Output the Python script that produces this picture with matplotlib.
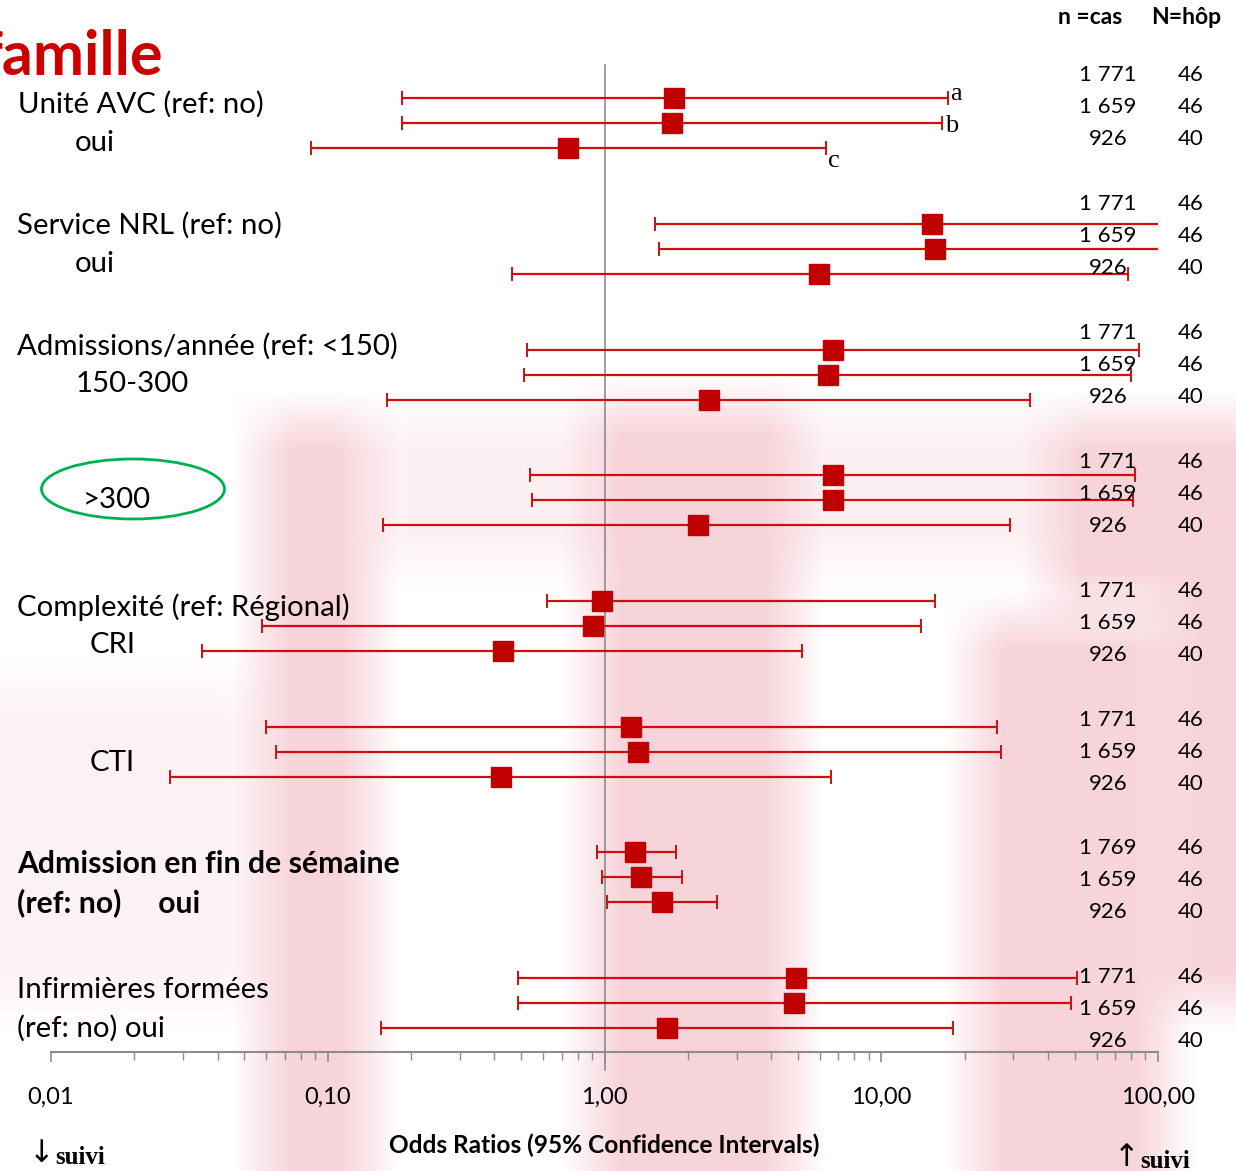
import numpy as np
import matplotlib
matplotlib.use("Agg")
import matplotlib.pyplot as plt
from matplotlib.patches import Ellipse
from matplotlib.ticker import FixedLocator, LogLocator, NullFormatter

plt.rcParams['font.family'] = ['Lato', 'DejaVu Sans']

# odds ratios and 95% CI, three models (a, b, c) per variable
or_est = [
    [1.79, 1.76, 0.74],    # Unité AVC
    [15.3, 15.7, 5.98],    # Service NRL
    [6.67, 6.40, 2.38],    # Admissions 150-300
    [6.67, 6.72, 2.17],    # Admissions >300
    [0.98, 0.905, 0.428],  # CRI
    [1.25, 1.32, 0.421],   # CTI
    [1.29, 1.36, 1.62],    # fin de semaine
    [4.94, 4.82, 1.68],    # infirmières formées
]
ci_low = [
    [0.185, 0.185, 0.087],
    [1.52, 1.57, 0.465],
    [0.523, 0.51, 0.164],
    [0.536, 0.549, 0.159],
    [0.622, 0.058, 0.035],
    [0.060, 0.065, 0.027],
    [0.943, 0.98, 1.025],
    [0.485, 0.485, 0.156],
]
ci_high = [
    [17.4, 16.6, 6.29],
    [150.0, 150.0, 77.6],
    [85.1, 80.2, 34.6],
    [82.9, 81.5, 29.3],
    [15.6, 13.9, 5.19],
    [26.1, 27.0, 6.56],
    [1.82, 1.90, 2.54],
    [50.8, 48.3, 18.1],
]
n_cas = [
    ["1 771", "1 659", "926"],
    ["1 771", "1 659", "926"],
    ["1 771", "1 659", "926"],
    ["1 771", "1 659", "926"],
    ["1 771", "1 659", "926"],
    ["1 771", "1 659", "926"],
    ["1 769", "1 659", "926"],
    ["1 771", "1 659", "926"],
]
n_hop = [["46", "46", "40"]] * 8
model_tags = ["a", "b", "c"]
tick_vals = [0.01, 0.1, 1, 10, 100]
tick_labels = ["0,01", "0,10", "1,00", "10,00", "100,00"]

W, H = 1236, 1171
fig = plt.figure(figsize=(W / 100, H / 100), dpi=100)


def fx(x):
    return x / W


def fy(y):
    return 1 - y / H


# faint blurred watermark behind the chart
bg = np.zeros((H, W))
for x0, x1, y0, y1 in [(262, 370, 420, H), (592, 795, 405, H), (975, 1165, 620, H),
                       (1050, W, 420, 600), (1170, W, 600, 1000)]:
    bg[y0:y1, x0:x1] = 1.0
bg[690:1000, 0:250] = 0.3
bg[420:560, 380:1050] = np.maximum(bg[420:560, 380:1050], 0.35)
k = 61
ker = np.ones(k) / k
bg = np.pad(bg, k, mode='edge')
bg = np.apply_along_axis(lambda r: np.convolve(r, ker, mode='same'), 1, bg)
bg = np.apply_along_axis(lambda c: np.convolve(c, ker, mode='same'), 0, bg)
bg = bg[k:-k, k:-k]
pink = np.array([0.97, 0.83, 0.855])
img = 1 - bg[..., None] * (1 - pink)
bax = fig.add_axes([0, 0, 1, 1], zorder=-1)
bax.imshow(img, aspect='auto', interpolation='bilinear')
bax.axis('off')

ax = fig.add_axes([fx(51), fy(1052), fx(1158 - 51), (1052 - 63) / H])
ax.patch.set_alpha(0)

red = "#C00000"
for g in range(len(or_est)):
    for j in range(3):
        y = g * 5 + j
        est = or_est[g][j]
        ax.errorbar(est, y,
                    xerr=[[est - ci_low[g][j]], [ci_high[g][j] - est]],
                    fmt='s', color=red, ecolor="#CC1010", elinewidth=1.6,
                    capsize=5, capthick=1.4, markersize=15)

ax.set_xscale('log')
ax.set_xlim(0.01, 100)
ax.set_ylim(37.95, -1.4)

# reference line at OR = 1
ax.plot([1, 1], [-1.31, 38.66], color="#8C8C8C", lw=1.2, clip_on=False, zorder=0)

for side in ['top', 'right', 'left']:
    ax.spines[side].set_visible(False)
ax.spines['bottom'].set_color("#8C8C8C")
ax.spines['bottom'].set_linewidth(1.5)
ax.set_yticks([])
ax.xaxis.set_major_locator(FixedLocator(tick_vals))
ax.set_xticklabels(tick_labels, fontsize=17)
ax.xaxis.set_minor_locator(LogLocator(base=10, subs=np.arange(2, 10)))
ax.xaxis.set_minor_formatter(NullFormatter())
ax.tick_params(axis='x', which='major', direction='out', length=7, width=1.2,
               color="#8C8C8C", pad=18)
ax.tick_params(axis='x', which='minor', direction='out', length=6, width=1.0,
               color="#8C8C8C")

# model letters next to the first variable
for j, tag in enumerate(model_tags):
    ax.annotate(tag, (ci_high[0][j], j), xytext=(2, [3, -2, -9][j]),
                textcoords='offset points', fontsize=19, va='center',
                family=['Liberation Serif', 'DejaVu Serif'], annotation_clip=False)

# sample sizes on the right
fig.text(fx(1090), fy(17), "n =cas", fontsize=16.5, fontweight='bold', ha='center', va='center')
fig.text(fx(1186), fy(17), "N=hôp", fontsize=16.5, fontweight='bold', ha='center', va='center')
for g in range(len(n_cas)):
    for j in range(3):
        ypx = 75 + 128.9 * g + 32 * j
        fig.text(fx(1108), fy(ypx), n_cas[g][j], fontsize=16, ha='center', va='center')
        fig.text(fx(1191), fy(ypx), n_hop[g][j], fontsize=16, ha='center', va='center')

# variable labels
fig.text(fx(163), fy(75), "famille", fontsize=44, fontweight='bold', color="#CC0000",
         ha='right', va='baseline')
labels = [
    (18, 104, "Unité AVC (ref: no)", 'normal'),
    (75, 143, "oui", 'normal'),
    (17, 225, "Service NRL (ref: no)", 'normal'),
    (75, 264, "oui", 'normal'),
    (17, 346, "Admissions/année (ref: <150)", 'normal'),
    (76, 384, "150-300", 'normal'),
    (83, 500, ">300", 'normal'),
    (17, 607, "Complexité (ref: Régional)", 'normal'),
    (90, 645, "CRI", 'normal'),
    (90, 763, "CTI", 'normal'),
    (17, 864, "Admission en fin de sémaine", 'bold'),
    (17, 903, "(ref: no)     oui", 'bold'),
    (17, 990, "Infirmières formées", 'normal'),
    (17, 1028, "(ref: no) oui", 'normal'),
]
for x, y, s, w in labels:
    fig.text(fx(x), fy(y), s, fontsize=21.7 if w == 'bold' else 21.2, fontweight=w,
             ha='left', va='center')

fig.patches.append(Ellipse((fx(133), fy(489)), fx(183), 60 / H, fill=False,
                           edgecolor="#00B050", lw=2, transform=fig.transFigure))

fig.text(fx(604), fy(1145), "Odds Ratios (95% Confidence Intervals)", fontsize=17.6,
         fontweight='bold', ha='center', va='center')

# direction hints under the axis
serif = ['Liberation Serif', 'DejaVu Serif']
fig.text(fx(42), fy(1154), "↓", fontsize=22, ha='center', va='center', family='DejaVu Sans')
fig.text(fx(55), fy(1158), "suivi", fontsize=18, fontweight='bold', ha='left', va='center',
         family=serif)
fig.text(fx(1127), fy(1157), "↑", fontsize=22, ha='center', va='center', family='DejaVu Sans')
fig.text(fx(1140), fy(1161), "suivi", fontsize=18, fontweight='bold', ha='left', va='center',
         family=serif)

fig.savefig("out.png", dpi=100)
